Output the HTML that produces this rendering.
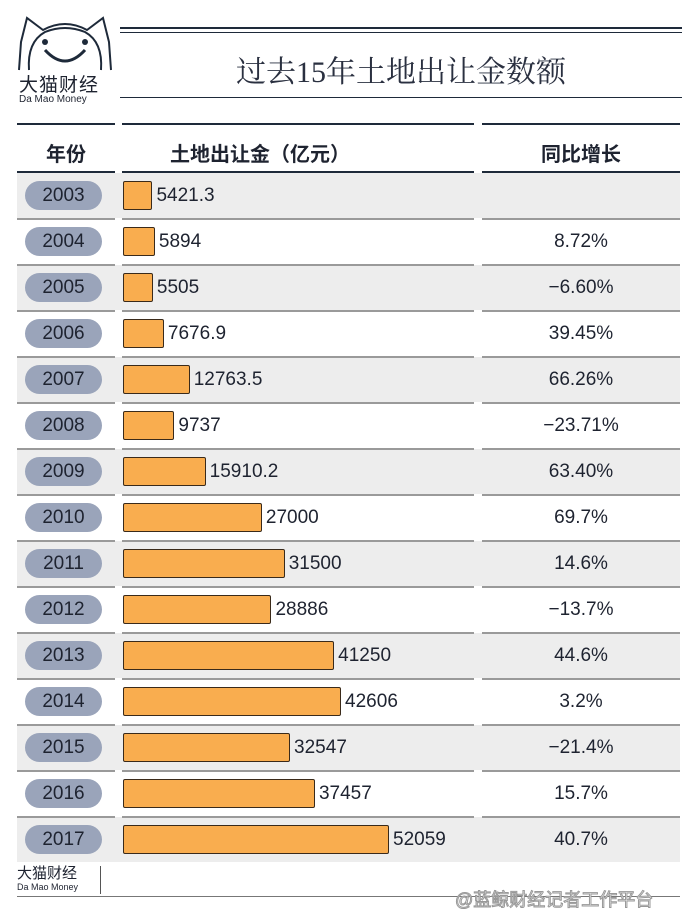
<!DOCTYPE html>
<html><head><meta charset="utf-8"><style>
body{margin:0;width:690px;height:915px;background:#fff;position:relative;overflow:hidden;font-family:"Liberation Sans","Noto Sans CJK SC",sans-serif;color:#1e2330}
.a{position:absolute}
</style></head><body>
<svg class="a" style="left:15px;top:12px" width="100" height="62" viewBox="0 0 100 62">
<path d="M4 58 L6 30 L12 6 L28 18 Q50 6 72 18 L88 6 L94 30 L96 58" fill="none" stroke="#1e2a3a" stroke-width="2"/>
<path d="M14 58 Q12 30 30 20 Q50 12 70 20 Q88 30 86 58" fill="none" stroke="#1e2a3a" stroke-width="2"/>
<path d="M30 38 Q50 60 70 38" fill="none" stroke="#1e2a3a" stroke-width="3"/>
<circle cx="30" cy="30" r="3" fill="#1e2a3a"/><circle cx="70" cy="30" r="3" fill="#1e2a3a"/>
</svg>
<div class="a" style="left:19px;top:70px;font-size:19px;letter-spacing:1px">大猫财经</div>
<div class="a" style="left:19px;top:94px;font-size:10px">Da Mao Money</div>
<div class="a" style="left:120px;top:27px;width:562px;height:2px;background:#1e2a3a"></div>
<div class="a" style="left:120px;top:32px;width:562px;height:1px;background:#1e2a3a"></div>
<div class="a" style="left:120px;top:97px;width:562px;height:1px;background:#1e2a3a"></div>
<div class="a" style="left:120px;top:47px;width:562px;text-align:center;font-family:'Liberation Serif','Noto Serif CJK SC',serif;font-size:30px;color:#2a3040">过去15年土地出让金数额</div>
<div class="a" style="left:17px;top:123px;width:98px;height:2px;background:#1e2a3a"></div>
<div class="a" style="left:122px;top:123px;width:352px;height:2px;background:#1e2a3a"></div>
<div class="a" style="left:482px;top:123px;width:198px;height:2px;background:#1e2a3a"></div>
<div class="a" style="left:17px;top:138px;width:98px;text-align:center;font-size:20px;font-weight:bold">年份</div>
<div class="a" style="left:170px;top:138px;font-size:20px;font-weight:bold">土地出让金（亿元）</div>
<div class="a" style="left:482px;top:138px;width:198px;text-align:center;font-size:20px;font-weight:bold">同比增长</div>
<div class="a" style="left:17px;top:171px;width:98px;height:2px;background:#1e2a3a"></div>
<div class="a" style="left:122px;top:171px;width:352px;height:2px;background:#1e2a3a"></div>
<div class="a" style="left:482px;top:171px;width:198px;height:2px;background:#1e2a3a"></div>
<div id="rows"></div>
<div class="a" style="left:17px;top:862px;font-size:15px">大猫财经</div>
<div class="a" style="left:17px;top:882px;font-size:9px">Da Mao Money</div>
<div class="a" style="left:100px;top:866px;width:1px;height:28px;background:#555"></div>
<div class="a" style="left:17px;top:896px;width:663px;height:1px;background:#777"></div>
<div class="a" style="left:455px;top:886px;font-size:18px;color:#fff;-webkit-text-stroke:1px #999">@蓝鲸财经记者工作平台</div>
<script>
const years=[2003,2004,2005,2006,2007,2008,2009,2010,2011,2012,2013,2014,2015,2016,2017];
const amounts=[5421.3,5894,5505,7676.9,12763.5,9737,15910.2,27000,31500,28886,41250,42606,32547,37457,52059];
const amountLabels=["5421.3","5894","5505","7676.9","12763.5","9737","15910.2","27000","31500","28886","41250","42606","32547","37457","52059"];
const growth=["","8.72%","−6.60%","39.45%","66.26%","−23.71%","63.40%","69.7%","14.6%","−13.7%","44.6%","3.2%","−21.4%","15.7%","40.7%"];
const x=v=>v*264/52059;
const c=document.getElementById('rows');
years.forEach((y,i)=>{
 const top=173+i*46;
 const r=document.createElement('div');r.className='a';
 
 
 r.style.cssText=`left:0;top:${top}px;width:690px;height:46px`;
 let h='';
 if(i%2==0) h+=`<div class="a" style="left:17px;top:0;width:663px;height:45px;background:#ededed"></div>`;
 if(i>0) ['17px;width:98px','122px;width:352px','482px;width:198px'].forEach(s=>h+=`<div class="a" style="left:${s};top:-1px;height:2px;background:#9a9a9a"></div>`);
 h+=`<div class="a" style="left:25px;top:8px;width:77px;height:29px;border-radius:15px;background:#9aa4ba;text-align:center;line-height:29px;font-size:19px">${y}</div>`;
 const w=x(amounts[i]);
 h+=`<div class="a" style="left:123px;top:8px;width:${w}px;height:27px;background:#f9ad4f;border:1px solid #3a2a1a;border-radius:2px"></div>`;
 h+=`<div class="a" style="left:${129+w}px;top:12px;font-size:19px">${amountLabels[i]}</div>`;
 h+=`<div class="a" style="left:482px;width:198px;text-align:center;top:12px;font-size:19px">${growth[i]}</div>`;
 r.innerHTML=h;c.appendChild(r);
});
</script>
</body></html>
